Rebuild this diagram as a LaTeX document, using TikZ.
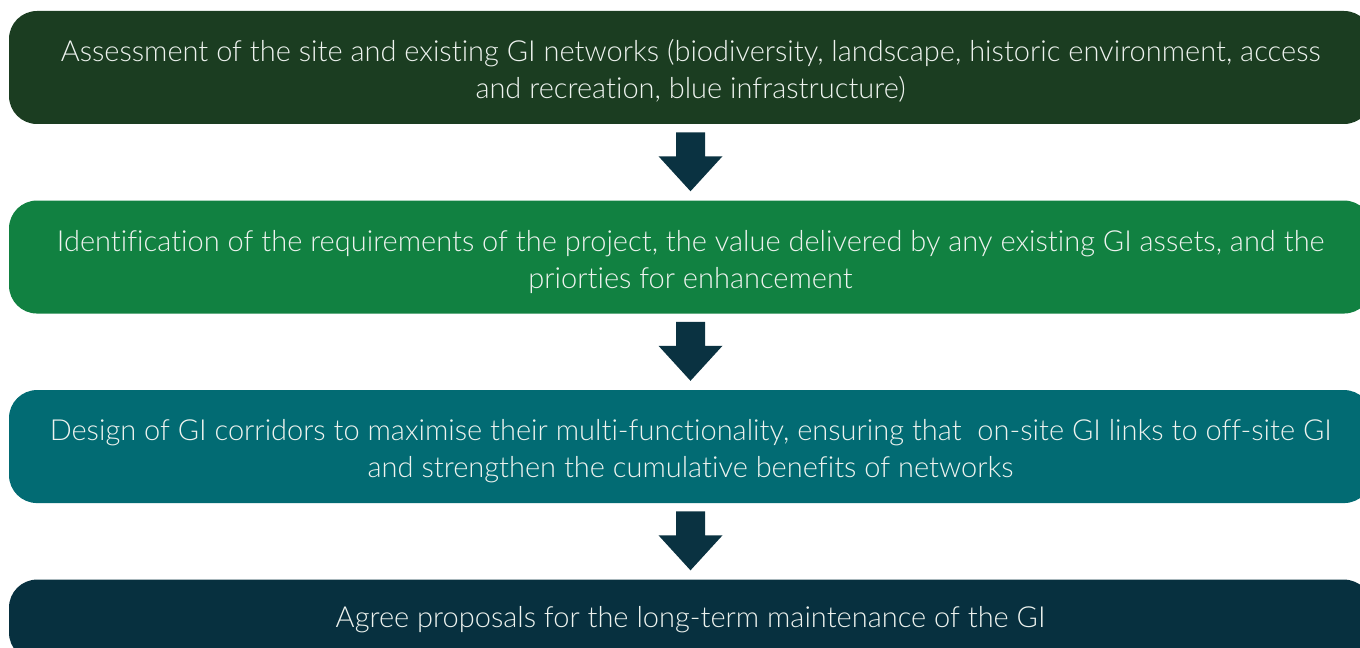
\documentclass[tikz,border=0pt]{standalone}
\usepackage{fontspec}
\setmainfont{Lato Light}[Ligatures=NoCommon]
\usetikzlibrary {positioning, calc}

\definecolor{boxA}{HTML}{1B3D21}
\definecolor{boxB}{HTML}{118141}
\definecolor{boxC}{HTML}{026B73}
\definecolor{boxD}{HTML}{07303F}
\definecolor{arrowcol}{HTML}{0A3241}
\definecolor{textcol}{HTML}{EEF3EF}

\newcommand{\tstrut}{\rule{0pt}{23pt}}
\newcommand{\bstrut}{\rule[-4pt]{0pt}{0pt}}

\begin{document}
\begin{tikzpicture}[
    x=0.75pt,
    y=-0.75pt,
    node distance=57pt,
    stage/.style={
        rounded corners=21pt,
        minimum width=1022.25pt,
        minimum height=84.75pt,
        inner sep=0pt,
        text=textcol,
        align=center,
        font=\fontsize{21.75pt}{27.75pt}\selectfont,
    },
]
    \useasboundingbox (0,0) rectangle (1360,648);

    \node[stage, fill=boxA]              (A) at (690.5,67.5) {\tstrut Assessment of the site and existing GI networks (biodiversity, landscape, historic environment, access\\and recreation, blue infrastructure)\bstrut};
    \node[stage, fill=boxB, below =of A] (B) {\tstrut Identification of the requirements of the project, the value delivered by any existing GI assets, and the\\priorties for enhancement\bstrut};
    \node[stage, fill=boxC, below =of B] (C) {\tstrut Design of GI corridors to maximise their multi-functionality, ensuring that~ on-site GI links to off-site GI\\and strengthen the cumulative benefits of networks\bstrut};
    \node[stage, fill=boxD, below =of C,
          minimum height=60.75pt]        (D) {Agree proposals for the long-term maintenance of the GI};

    \foreach \a/\b in {A/B, B/C, C/D}
        \fill[arrowcol]
            ($(\a.south)+(-14.5,8)$) -- ($(\a.south)+(14.5,8)$)
            -- ($(\a.south)+(14.5,32)$) -- ($(\a.south)+(32,32)$)
            -- ($(\b.north)+(0,-9)$)
            -- ($(\a.south)+(-32,32)$) -- ($(\a.south)+(-14.5,32)$) -- cycle;
\end{tikzpicture}
\end{document}
